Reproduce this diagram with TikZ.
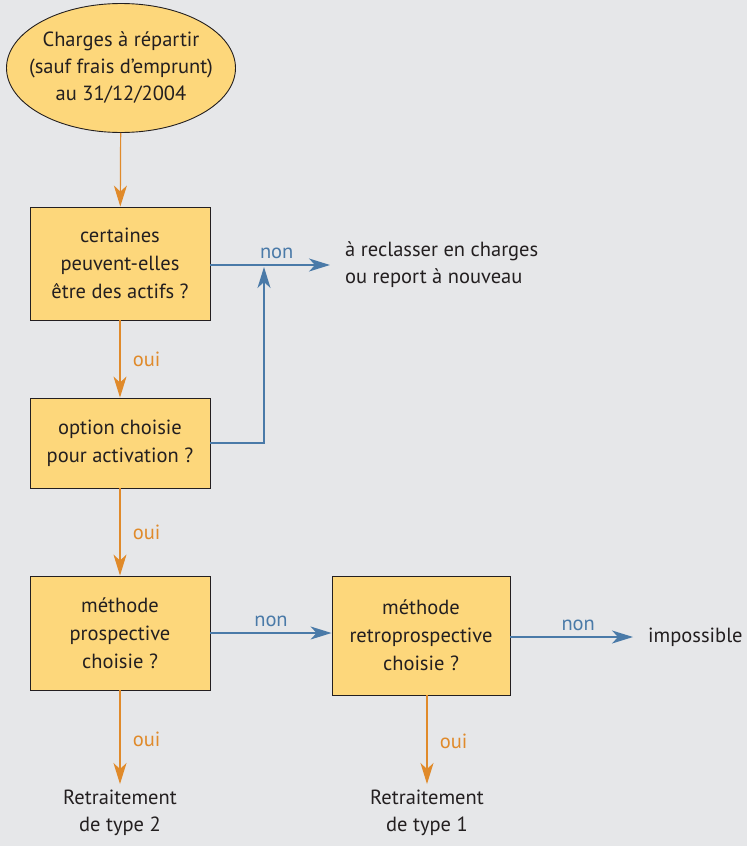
\documentclass[tikz,border=0pt]{standalone}
\usepackage{fontspec}
\setmainfont{PT Sans}
\usetikzlibrary{arrows.meta,shapes.geometric}
\definecolor{bgGray}{HTML}{E6E7E9}
\definecolor{boxFill}{HTML}{FDD77B}
\definecolor{ouiOrange}{HTML}{E08A2A}
\definecolor{nonBlue}{HTML}{4A7AA8}
\definecolor{inkDark}{HTML}{231F20}
\newcommand\boxWidth{180}
\newcommand\leftCol{120}
\newcommand\rightCol{421}
\newcommand\ouiShift{29}

\tikzset{
  question/.style={draw=inkDark, fill=boxFill, line width=0.9pt, minimum width=\boxWidth pt,
    align=center, text=inkDark, font=\fontsize{20.5}{28}\selectfont, inner sep=0pt},
  outcome/.style={align=center, text=inkDark, font=\fontsize{20.5}{27}\selectfont, inner sep=2pt},
  ouiArrow/.style={draw=ouiOrange, line width=1.2pt, -{Stealth[length=21pt, width=13pt, inset=6pt]}},
  nonArrow/.style={draw=nonBlue, line width=1.2pt, -{Stealth[length=21pt, width=13pt, inset=6pt]}},
  ouiLabel/.style={text=ouiOrange, font=\fontsize{20.5}{20}\selectfont},
  nonLabel/.style={text=nonBlue, font=\fontsize{20.5}{20}\selectfont}
}

\begin{document}
\begin{tikzpicture}[x=1pt, y=-1pt]
    \fill[bgGray] (0,0) rectangle (747,846);
    \useasboundingbox (0,0) rectangle (747,846);

    % START
    \node[ellipse, draw=inkDark, fill=boxFill, line width=0.9pt, minimum width=229pt, minimum height=129pt,
      inner xsep=-14pt, inner ysep=-6pt, align=center, text=inkDark, font=\fontsize{20.5}{27}\selectfont]
      (charges) at (121,68) {Charges à répartir\\(sauf frais d’emprunt)\\au 31/12/2004};

    % QUESTIONS
    \node[question, minimum height=113pt] (actifs) at (\leftCol,263.5) {certaines\\peuvent-elles\\être des actifs ?};
    \node[question, minimum height=90pt] (option) at (\leftCol,443) {option choisie\\pour activation ?};
    \node[question, minimum height=114pt] (prosp) at (\leftCol,633) {méthode\\prospective\\choisie ?};
    \node[question, minimum height=119pt, minimum width=178pt] (retro) at (\rightCol,635.5) {méthode\\retroprospective\\choisie ?};

    % OUTCOMES
    \node[outcome, anchor=west, align=left] (reclass) at (343,265) {à reclasser en charges\\ou report à nouveau};
    \node[outcome, anchor=west] (impossible) at (646,637) {impossible};
    \node[outcome, anchor=north] (typeTwo) at (\leftCol,788) {Retraitement\\de type 2};
    \node[outcome, anchor=north] (typeOne) at (427,788) {Retraitement\\de type 1};
    \coordinate (merge) at (264,267);

    % OUI PATHS
    \draw[ouiArrow] (charges) -- (actifs);
    \draw[ouiArrow] (actifs) -- node[ouiLabel, right=\ouiShift pt-20pt] {oui} (option);
    \draw[ouiArrow] (option) -- node[ouiLabel, right=\ouiShift pt-20pt] {oui} (prosp);
    \draw[ouiArrow, shorten >=4pt] (prosp) -- node[ouiLabel, right=\ouiShift pt-20pt] {oui} (typeTwo);
    \draw[ouiArrow, shorten >=4pt] (retro.south -| typeOne) -- node[ouiLabel, right=\ouiShift pt-20pt] {oui} (typeOne);

    % NON PATHS
    \draw[nonArrow, shorten >=13pt] (actifs.east |- reclass) -- node[nonLabel, above=2pt] {non} (reclass.west);
    \draw[nonArrow] (option.east) -| (merge);
    \draw[nonArrow] (prosp.east) -- node[nonLabel, above=2pt] {non} (retro.west |- prosp.east);
    \draw[nonArrow, shorten >=13pt] (retro.east |- impossible) -- node[nonLabel, above=2pt] {non} (impossible.west);

  \end{tikzpicture}
\end{document}
